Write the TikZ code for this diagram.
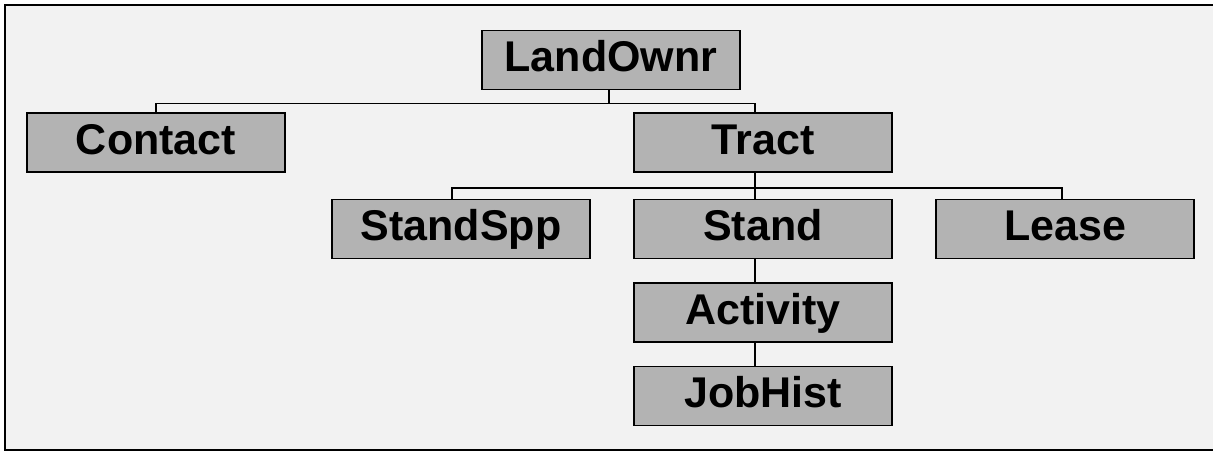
\documentclass[tikz,border=0pt]{standalone}
\usepackage{fontspec}
\setmainfont{Liberation Sans}
\definecolor{bgc}{HTML}{F2F2F2}
\definecolor{boxc}{HTML}{B3B3B3}
\begin{document}
\begin{tikzpicture}[x=1pt,y=-1pt,
  ent/.style={draw=black,line width=1.8pt,fill=boxc,minimum width=258pt,minimum height=59pt,inner sep=0pt,
    font=\fontsize{43}{50}\selectfont\bfseries,text height=33pt,text depth=10pt},
  conn/.style={draw=black,line width=1.8pt}]
\useasboundingbox (0,0) rectangle (1213,453);
\draw[fill=bgc,line width=2.2pt] (5,5) rectangle (1240,450);
\node[ent] (lo) at (611,60) {LandOwnr};
\node[ent] (contact) at (156,142.5) {Contact};
\node[ent] (tract) at (763,142.5) {Tract};
\node[ent] (spp) at (461,229) {StandSpp};
\node[ent] (stand) at (763,229) {Stand};
\node[ent] (lease) at (1065,229) {Lease};
\node[ent] (act) at (763,312.5) {Activity};
\node[ent] (job) at (763,396) {JobHist};
% connectors
\draw[conn] ([xshift=-2pt]lo.south) -- ++(0,13) coordinate (j1);
\draw[conn] (contact.north) -- (contact.north |- j1) -- ([xshift=-8pt]tract.north |- j1) -- ([xshift=-8pt]tract.north);
\draw[conn] ([xshift=-8pt]tract.south) -- ++(0,15) coordinate (j2);
\draw[conn] ([xshift=-9pt]spp.north) -- ([xshift=-9pt]spp.north |- j2) -- ([xshift=-3pt]lease.north |- j2) -- ([xshift=-3pt]lease.north);
\draw[conn] (j2) -- ([xshift=-8pt]stand.north);
\draw[conn] ([xshift=-8pt]stand.south) -- ([xshift=-8pt]act.north);
\draw[conn] ([xshift=-8pt]act.south) -- ([xshift=-8pt]job.north);
\end{tikzpicture}
\end{document}
